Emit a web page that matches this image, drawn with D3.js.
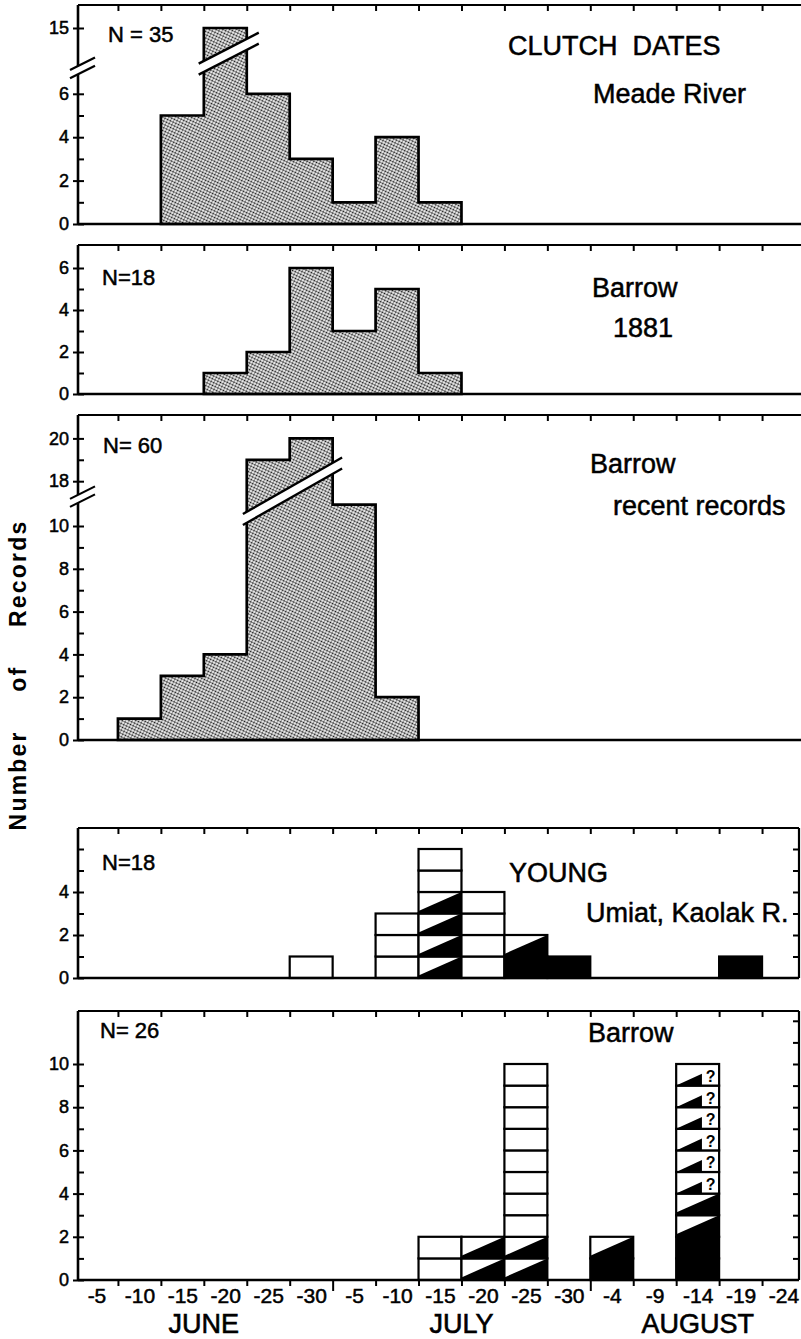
<!DOCTYPE html>
<html>
<head>
<meta charset="utf-8">
<script src="https://cdn.jsdelivr.net/npm/d3@7/dist/d3.min.js"></script>
<style>
  body { margin: 0; background: #fff; }
  svg text { font-family: "Liberation Sans", Arial, sans-serif; fill: #000; }
</style>
</head>
<body>
<div id="chart"></div>
<script>
// five-day bins, 1 June .. 24 August
const binLabels = ["-5","-10","-15","-20","-25","-30","-5","-10","-15","-20","-25","-30","-4","-9","-14","-19","-24"];
const months = ["JUNE", "JULY", "AUGUST"];
const monthStart = [0, 6, 12];
const monthEnd = [6, 12, 17];

// clutch dates, records per bin
const meadeRiver   = [0,0,5,15,6,3,1,4,1,0,0,0,0,0,0,0,0];
const barrow1881   = [0,0,0,1,2,6,3,5,1,0,0,0,0,0,0,0,0];
const barrowRecent = [0,1,3,4,19,20,11,2,0,0,0,0,0,0,0,0,0];

// young: one letter per record, bottom to top
// w = open, h = half black, b = black, q = half black with "?"
const umiatBins  = [5, 7, 8, 9, 10, 11, 15];
const umiatCells = ["w", "www", "hhhhww", "wwww", "bh", "b", "b"];
const barrowYoungBins  = [8, 9, 10, 12, 14];
const barrowYoungCells = ["ww", "hh", "hhwwwwwwww", "bh", "bbhhqqqqqq"];

const width = 801, height = 1339;
const axisX = 78, rightX = 799;

const svg = d3.select("#chart").append("svg")
  .attr("width", width).attr("height", height);

const defs = svg.append("defs");
const pat = defs.append("pattern").attr("id", "stipple")
  .attr("width", 3).attr("height", 3)
  .attr("patternUnits", "userSpaceOnUse")
  .attr("patternTransform", "rotate(25)");
pat.append("rect").attr("width", 3).attr("height", 3).attr("fill", "#fff");
pat.append("circle").attr("cx", 1.5).attr("cy", 1.5).attr("r", 1.12).attr("fill", "#111");

const x = d3.scaleLinear().domain([0, 17]).range([75, 805]);

// layout of the five panels
const panels = [
  { bottom: 224, top: 5, unit: 21.7, brk: [6.9, 13.25], gap: 8.3,
    major: [0, 2, 4, 6, 15], minor: [1, 3, 5],
    counts: meadeRiver, band: [2.88, -1, 4.28, -32],
    n: ["N = 35", 108, 42],
    labels: [["CLUTCH  DATES", 508, 55], ["Meade River", 593, 103]] },
  { bottom: 394, top: 245, unit: 21,
    major: [0, 2, 4, 6], minor: [1, 3, 5],
    counts: barrow1881,
    n: ["N=18", 102, 285],
    labels: [["Barrow", 592, 297], ["1881", 613, 337]] },
  { bottom: 740, top: 415, unit: 21.4, brk: [11.08, 17.36], gap: 8,
    major: [0, 2, 4, 6, 8, 10, 18, 20], minor: [1, 3, 5, 7, 9, 19],
    counts: barrowRecent, band: [3.91, 20.6, 6.22, -35.9],
    n: ["N= 60", 103, 453],
    labels: [["Barrow", 590, 473], ["recent records", 613, 515]] },
  { bottom: 978, top: 828, unit: 21.5, closed: true,
    major: [0, 2, 4], minor: [1, 3, 5, 6],
    bins: umiatBins, cells: umiatCells,
    n: ["N=18", 102, 870],
    labels: [["YOUNG", 509, 882], ["Umiat, Kaolak R.", 586, 922]] },
  { bottom: 1280, top: 1011, unit: 21.6, closed: true, xaxis: true,
    major: [0, 2, 4, 6, 8, 10], minor: [1, 3, 5, 7, 9],
    bins: barrowYoungBins, cells: barrowYoungCells,
    n: ["N= 26", 100, 1038],
    labels: [["Barrow", 588, 1042]] }
];

function makeY(p) {
  if (!p.brk) {
    return d3.scaleLinear().domain([0, (p.bottom - p.top) / p.unit]).range([p.bottom, p.top]);
  }
  const [L, U] = p.brk;
  const yL = p.bottom - L * p.unit, yU = yL - p.gap;
  const vTop = U + (yU - p.top) / p.unit;
  return d3.scaleLinear().domain([0, L, U, vTop]).range([p.bottom, yL, yU, p.top]);
}

panels.forEach(function(p) {
  const y = makeY(p);
  const g = svg.append("g");
  const xEnd = p.closed ? rightX : width + 5;

  // bars
  if (p.counts) {
    const first = p.counts.findIndex(d => d > 0);
    const last = p.counts.length - 1 - p.counts.slice().reverse().findIndex(d => d > 0);
    const pts = [[first, 0]];
    for (let i = first; i <= last; i++) pts.push([i, p.counts[i]]);
    pts.push([last + 1, p.counts[last]]);
    pts.push([last + 1, 0]);
    const line = d3.line().x(d => x(d[0])).y(d => y(d[1])).curve(d3.curveStepAfter);
    g.append("path").attr("d", line(pts) + "Z")
      .attr("fill", "url(#stipple)")
      .attr("stroke", "#000").attr("stroke-width", 2.7)
      .attr("stroke-linejoin", "miter");
  }

  if (p.cells) {
    p.bins.forEach(function(b, j) {
      p.cells[j].split("").forEach(function(t, i) {
        const x0 = x(b), x1 = x(b + 1), yb = y(i), yt = y(i + 1);
        const w = x1 - x0, h = yb - yt;
        g.append("rect").attr("x", x0).attr("y", yt).attr("width", w).attr("height", h)
          .attr("fill", t === "b" ? "#000" : "#fff");
        if (t === "h") {
          g.append("polygon")
            .attr("points", [[x0, yb], [x0, yb - 0.12 * h], [x1, yt], [x1, yb]].join(" "))
            .attr("fill", "#000");
        }
        if (t === "q") {
          g.append("polygon")
            .attr("points", [[x0, yb], [x0 + 0.6 * w, yb - 0.55 * h], [x0 + 0.6 * w, yb]].join(" "))
            .attr("fill", "#000");
          g.append("text").attr("x", x0 + 0.8 * w).attr("y", yb - 0.17 * h)
            .attr("text-anchor", "middle").attr("font-size", 16).attr("font-weight", "bold")
            .text("?");
        }
        g.append("rect").attr("x", x0).attr("y", yt).attr("width", w).attr("height", h)
          .attr("fill", "none").attr("stroke", "#000").attr("stroke-width", 2.2);
      });
    });
  }

  // break across the tall bars
  if (p.band) {
    const yBreak = (y(p.brk[0]) + y(p.brk[1])) / 2;
    const bx0 = x(p.band[0]), by0 = yBreak + p.band[1];
    const bx1 = x(p.band[2]), by1 = yBreak + p.band[3];
    const hw = 5.5;
    g.append("polygon")
      .attr("points", [[bx0, by0 - hw], [bx1, by1 - hw], [bx1, by1 + hw], [bx0, by0 + hw]].join(" "))
      .attr("fill", "#fff");
    [-hw, hw].forEach(function(o) {
      g.append("line").attr("x1", bx0).attr("y1", by0 + o).attr("x2", bx1).attr("y2", by1 + o)
        .attr("stroke", "#000").attr("stroke-width", 2.4);
    });
  }

  // frame
  g.append("line").attr("x1", axisX).attr("x2", xEnd).attr("y1", p.top).attr("y2", p.top)
    .attr("stroke", "#000").attr("stroke-width", 2.2);
  g.append("line").attr("x1", axisX).attr("x2", xEnd).attr("y1", p.bottom).attr("y2", p.bottom)
    .attr("stroke", "#000").attr("stroke-width", 2.6);
  if (p.closed) {
    g.append("line").attr("x1", rightX).attr("x2", rightX).attr("y1", p.top).attr("y2", p.bottom)
      .attr("stroke", "#000").attr("stroke-width", 2.2);
  }

  // left axis line, broken when needed
  const segs = p.brk ? [[0, p.brk[0]], [p.brk[1], y.domain()[3]]] : [[0, y.domain()[1]]];
  segs.forEach(function(s) {
    g.append("line").attr("x1", axisX).attr("x2", axisX).attr("y1", y(s[0])).attr("y2", y(s[1]))
      .attr("stroke", "#000").attr("stroke-width", 2.6);
  });
  if (p.brk) {
    p.brk.forEach(function(v) {
      const yy = y(v);
      g.append("line").attr("x1", axisX - 8).attr("y1", yy + 4).attr("x2", axisX + 17).attr("y2", yy - 8.5)
        .attr("stroke", "#000").attr("stroke-width", 2.2);
    });
  }

  // inside ticks for every value
  const inner = g.append("g").attr("transform", `translate(${axisX},0)`)
    .call(d3.axisLeft(y).tickValues(p.major.concat(p.minor)).tickSize(-6).tickFormat(""));
  inner.select(".domain").remove();
  inner.selectAll("line").attr("stroke-width", 2);

  // outside ticks + labels for majors
  const outer = g.append("g").attr("transform", `translate(${axisX},0)`)
    .call(d3.axisLeft(y).tickValues(p.major).tickSize(5).tickPadding(4).tickFormat(d3.format("d")));
  outer.select(".domain").remove();
  outer.selectAll("line").attr("stroke-width", 2);
  outer.selectAll("text").attr("font-size", 18).attr("font-family", "Liberation Sans, Arial, sans-serif")
    .attr("stroke", "#000").attr("stroke-width", 0.5);

  // ticks along the top at bin edges
  const topAx = g.append("g").attr("transform", `translate(0,${p.top})`)
    .call(d3.axisTop(x).tickValues(d3.range(1, 17)).tickSize(-6).tickFormat(""));
  topAx.select(".domain").remove();
  topAx.selectAll("line").attr("stroke-width", 2);

  if (p.closed) {
    const maxV = Math.floor(y.domain()[1]);
    const rightAx = g.append("g").attr("transform", `translate(${rightX},0)`)
      .call(d3.axisRight(y).tickValues(d3.range(1, maxV + 1)).tickSize(-6).tickFormat(""));
    rightAx.select(".domain").remove();
    rightAx.selectAll("line").attr("stroke-width", 2);
  }

  if (p.xaxis) {
    const bt = g.append("g").attr("transform", `translate(0,${p.bottom})`)
      .call(d3.axisBottom(x).tickValues(d3.range(1, 17).filter(d => !monthStart.includes(d))).tickSize(6).tickFormat(""));
    bt.select(".domain").remove();
    bt.selectAll("line").attr("stroke-width", 2);
    const mt = g.append("g").attr("transform", `translate(0,${p.bottom})`)
      .call(d3.axisBottom(x).tickValues(monthStart.slice(1)).tickSize(11).tickFormat(""));
    mt.select(".domain").remove();
    mt.selectAll("line").attr("stroke-width", 2);
    const lab = g.append("g").attr("transform", `translate(0,${p.bottom})`)
      .call(d3.axisBottom(x).tickValues(d3.range(17).map(d => d + 0.5)).tickSize(0).tickPadding(8)
        .tickFormat((d, i) => binLabels[i]));
    lab.select(".domain").remove();
    lab.selectAll("text").attr("font-size", 21).attr("font-family", "Liberation Sans, Arial, sans-serif")
      .attr("stroke", "#000").attr("stroke-width", 0.5);

    months.forEach(function(m, i) {
      g.append("text").attr("x", x((monthStart[i] + monthEnd[i]) / 2)).attr("y", 1333)
        .attr("text-anchor", "middle").attr("font-size", 27)
        .attr("stroke", "#000").attr("stroke-width", 0.6)
        .text(m);
    });
  }

  // texts
  g.append("text").attr("x", p.n[1]).attr("y", p.n[2]).attr("font-size", 22)
    .attr("stroke", "#000").attr("stroke-width", 0.5)
    .attr("xml:space", "preserve").text(p.n[0]);
  p.labels.forEach(function(l) {
    g.append("text").attr("x", l[1]).attr("y", l[2]).attr("font-size", 27)
      .attr("stroke", "#000").attr("stroke-width", 0.5)
      .attr("xml:space", "preserve").text(l[0]);
  });
});

// y axis title
svg.append("text")
  .attr("transform", "translate(26,675) rotate(-90)")
  .attr("text-anchor", "middle")
  .attr("font-size", 23).attr("font-weight", "bold")
  .attr("letter-spacing", 2.2).attr("word-spacing", 30)
  .text("Number of Records");
</script>
</body>
</html>
